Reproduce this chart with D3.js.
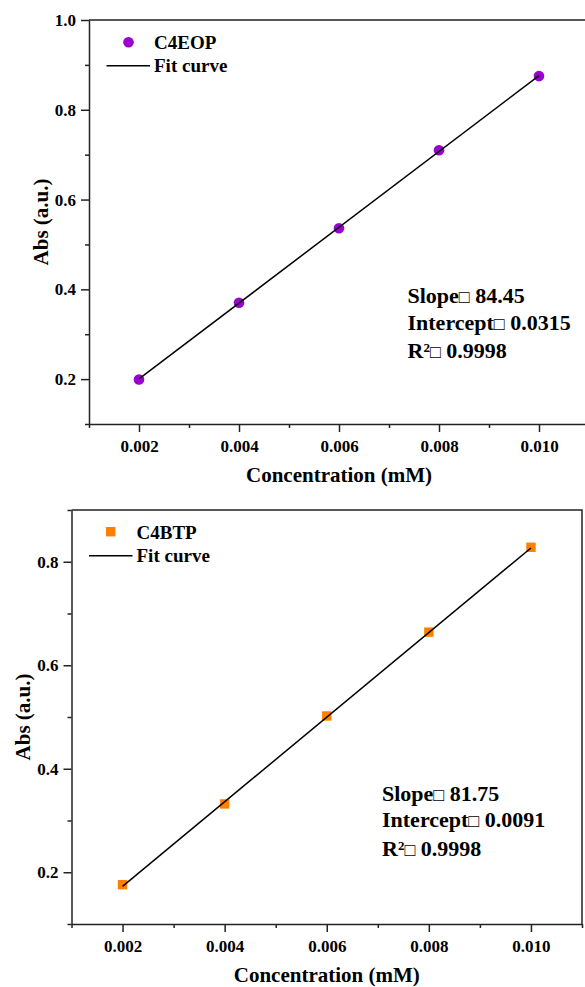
<!DOCTYPE html>
<html>
<head>
<meta charset="utf-8">
<script src="https://cdn.jsdelivr.net/npm/d3@7"></script>
<style>
  body { margin: 0; background: #fff; }
  svg { display: block; }
  text { font-family: "Liberation Serif", "Times New Roman", serif; font-weight: bold; fill: #000; }
</style>
</head>
<body>
<svg id="chart" width="585" height="987"></svg>
<script>
// Calibration data: absorbance vs. concentration for the two compounds
const concentration = [0.002, 0.004, 0.006, 0.008, 0.010];
const absC4EOP = [0.199, 0.370, 0.536, 0.710, 0.875];
const absC4BTP = [0.176, 0.332, 0.502, 0.664, 0.828];

// Linear fit results: slope, intercept, R²
const fitC4EOP = [84.45, 0.0315, 0.9998];
const fitC4BTP = [81.75, 0.0091, 0.9998];

// Axis ticks
const xMajorTicks = [0.002, 0.004, 0.006, 0.008, 0.010];
const xMinorTicks = [0.001, 0.003, 0.005, 0.007, 0.009, 0.011];
const yMajorTicksEOP = [0.2, 0.4, 0.6, 0.8, 1.0];
const yMajorTicksBTP = [0.2, 0.4, 0.6, 0.8];
const yMinorTicks = [0.1, 0.3, 0.5, 0.7, 0.9];
const xDomain = [0.001, 0.011];
const yDomainEOP = [0.1, 1.0];
const yDomainBTP = [0.1, 0.9];

const svg = d3.select("#chart");
const AXIS_COLOR = "#222";
const FONT = "Liberation Serif, Times New Roman, serif";

function drawPanel(p) {
  const x = d3.scaleLinear().domain(xDomain).range([p.left, p.right]);
  const y = d3.scaleLinear().domain(p.yDomain).range([p.bottom, p.top]);
  const g = svg.append("g");

  // frame: top and right edges
  g.append("path")
    .attr("d", `M${p.left},${p.top}H${p.right}V${p.bottom}`)
    .attr("fill", "none").attr("stroke", AXIS_COLOR).attr("stroke-width", 1.5);

  // x axis
  g.append("g").attr("transform", `translate(0,${p.bottom})`)
    .call(d3.axisBottom(x).tickValues(xMajorTicks).tickSize(8).tickSizeOuter(0)
      .tickPadding(8).tickFormat(d3.format(".3f")));
  const xMinor = g.append("g").attr("transform", `translate(0,${p.bottom})`)
    .call(d3.axisBottom(x).tickValues(xMinorTicks).tickSize(4).tickFormat(""));
  xMinor.select(".domain").remove();

  // y axis
  g.append("g").attr("transform", `translate(${p.left},0)`)
    .call(d3.axisLeft(y).tickValues(p.yTicks).tickSize(8).tickSizeOuter(0)
      .tickPadding(5).tickFormat(d3.format(".1f")));
  const yMinor = g.append("g").attr("transform", `translate(${p.left},0)`)
    .call(d3.axisLeft(y).tickValues(yMinorTicks).tickSize(4).tickFormat(""));
  yMinor.select(".domain").remove();

  g.selectAll(".domain, .tick line").attr("stroke", AXIS_COLOR).attr("stroke-width", 1.5);
  g.selectAll(".tick text").attr("font-size", 17).attr("fill", "#000")
    .attr("font-family", FONT).attr("font-weight", "bold");

  // axis titles
  g.append("text")
    .attr("x", (p.left + p.right) / 2).attr("y", p.bottom + 58)
    .attr("text-anchor", "middle").attr("font-size", 21)
    .text("Concentration (mM)");
  g.append("text")
    .attr("transform", `translate(${p.left - 41.5},${(p.top + p.bottom) / 2}) rotate(-90)`)
    .attr("text-anchor", "middle").attr("font-size", 21)
    .text("Abs (a.u.)");

  // data markers
  const pts = concentration.map((c, i) => [c, p.values[i]]);
  if (p.marker === "circle") {
    g.selectAll("circle.pt").data(pts).join("circle").attr("class", "pt")
      .attr("cx", d => x(d[0])).attr("cy", d => y(d[1])).attr("r", 5.3)
      .attr("fill", p.color);
  } else {
    const s = 9.4;
    g.selectAll("rect.pt").data(pts).join("rect").attr("class", "pt")
      .attr("x", d => x(d[0]) - s / 2).attr("y", d => y(d[1]) - s / 2)
      .attr("width", s).attr("height", s).attr("fill", p.color);
  }

  // fitted line
  const [slope, intercept, r2] = p.fit;
  const ends = [concentration[0], concentration[concentration.length - 1]];
  g.append("path")
    .datum(ends.map(c => [c, slope * c + intercept]))
    .attr("d", d3.line().x(d => x(d[0])).y(d => y(d[1])))
    .attr("fill", "none").attr("stroke", "#000").attr("stroke-width", 1.5);

  // legend
  const lx = p.left, ly = p.top;
  if (p.marker === "circle") {
    g.append("circle").attr("cx", lx + 39.5).attr("cy", ly + 22.3).attr("r", 5.3).attr("fill", p.color);
  } else {
    g.append("rect").attr("x", lx + 39.2 - 4.7).attr("y", ly + 21.7 - 4.7)
      .attr("width", 9.4).attr("height", 9.4).attr("fill", p.color);
  }
  g.append("text").attr("x", lx + 65).attr("y", ly + 28.5).attr("font-size", 19).text(p.name);
  g.append("line").attr("x1", lx + 17.5).attr("x2", lx + 61)
    .attr("y1", ly + 45.7).attr("y2", ly + 45.7)
    .attr("stroke", "#000").attr("stroke-width", 1.5);
  g.append("text").attr("x", lx + 65).attr("y", ly + 52).attr("font-size", 19).text("Fit curve");

  // fit statistics
  const ann = g.append("text").attr("font-size", 22);
  const addLine = (dy, parts) => {
    const t = ann.append("tspan").attr("x", p.annX).attr("y", p.annY + dy);
    parts.forEach(part => {
      const s = t.append("tspan").text(part.t);
      if (part.box) s.attr("font-size", 18).attr("font-weight", "normal");
      if (part.sup) s.attr("font-size", 13).attr("dy", -6);
      if (part.unsup) s.attr("dy", 6);
    });
  };
  addLine(0, [{ t: "Slope" }, { t: "\u25A1", box: true }, { t: " " + slope }]);
  addLine(26.5, [{ t: "Intercept" }, { t: "\u25A1", box: true }, { t: " " + intercept }]);
  addLine(55, [{ t: "R" }, { t: "2", sup: true }, { t: "\u25A1", box: true, unsup: true }, { t: " " + r2 }]);
}

drawPanel({
  left: 89, right: 589, top: 20, bottom: 424,
  yDomain: yDomainEOP, yTicks: yMajorTicksEOP,
  values: absC4EOP, fit: fitC4EOP, name: "C4EOP",
  marker: "circle", color: "#9a00cf",
  annX: 407.5, annY: 303.3
});

drawPanel({
  left: 71.5, right: 582, top: 510, bottom: 924,
  yDomain: yDomainBTP, yTicks: yMajorTicksBTP,
  values: absC4BTP, fit: fitC4BTP, name: "C4BTP",
  marker: "square", color: "#ff8000",
  annX: 382, annY: 800.7
});
</script>
</body>
</html>
